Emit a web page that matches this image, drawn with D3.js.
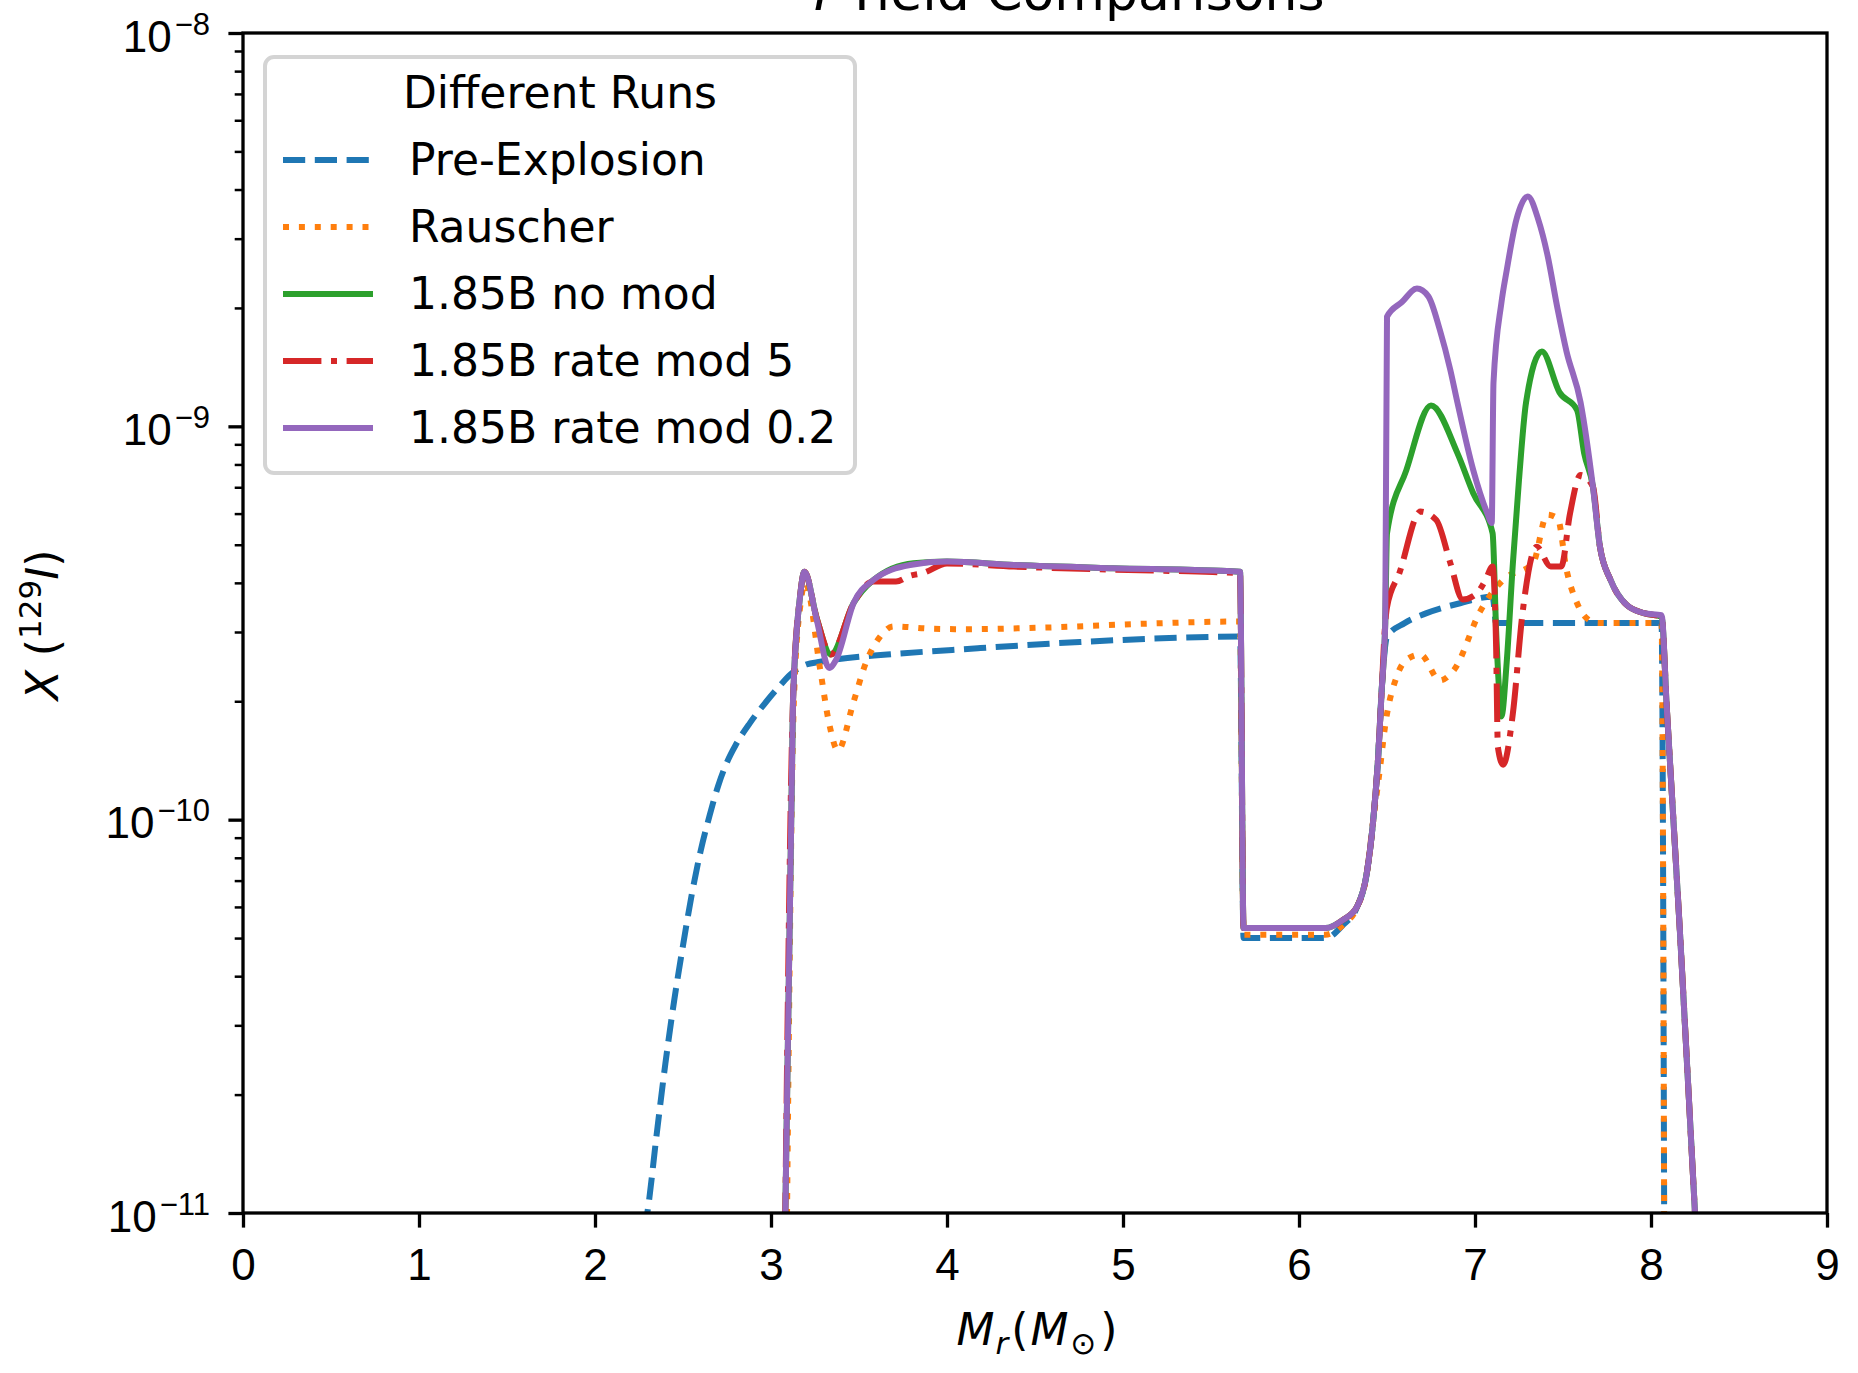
<!DOCTYPE html>
<html>
<head>
<meta charset="utf-8">
<script src="https://cdn.jsdelivr.net/npm/d3@7"></script>
<style>
  html, body { margin: 0; padding: 0; background: #ffffff; }
  svg { display: block; font-family: "DejaVu Sans", sans-serif; }
</style>
</head>
<body>
<svg id="chart" width="1858" height="1373"></svg>
<script>
// ---- data: [enclosed mass M_r (Msun), mass fraction X(129I)] ----
const seriesNames = ["Pre-Explosion", "Rauscher", "1.85B no mod", "1.85B rate mod 5", "1.85B rate mod 0.2"];

const preExplosion = [
  [2.28, 9.0e-12], [2.30, 1.02e-11], [2.35, 1.58e-11], [2.40, 2.40e-11], [2.45, 3.47e-11],
  [2.50, 4.79e-11], [2.55, 6.46e-11], [2.60, 8.32e-11], [2.65, 1.02e-10], [2.70, 1.22e-10],
  [2.75, 1.40e-10], [2.80, 1.55e-10], [2.88, 1.76e-10], [2.975, 2.0e-10], [3.05, 2.19e-10],
  [3.11, 2.34e-10], [3.20, 2.48e-10], [3.28, 2.52e-10], [3.66, 2.63e-10], [4.03, 2.70e-10],
  [4.19, 2.73e-10], [4.755, 2.83e-10], [5.32, 2.90e-10], [5.665, 2.92e-10], [5.685, 5.0e-11],
  [6.15, 5.0e-11], [6.25, 5.4e-11], [6.33, 6.0e-11], [6.385, 7.3e-11], [6.42, 9.8e-11],
  [6.45, 1.45e-10], [6.47, 2.14e-10], [6.50, 2.92e-10], [6.60, 3.16e-10], [6.725, 3.35e-10],
  [6.915, 3.55e-10], [7.10, 3.69e-10], [7.12, 3.16e-10], [8.06, 3.16e-10], [8.075, 9.0e-12]
];

const rauscher = [
  [3.09, 9.0e-12], [3.13, 2.0e-10], [3.17, 3.6e-10], [3.195, 4.0e-10], [3.28, 2.40e-10],
  [3.33, 1.76e-10], [3.38, 1.50e-10], [3.47, 2.0e-10], [3.54, 2.51e-10], [3.62, 2.92e-10],
  [3.695, 3.10e-10], [3.90, 3.06e-10], [4.09, 3.05e-10], [4.57, 3.08e-10], [5.135, 3.15e-10],
  [5.665, 3.19e-10], [5.685, 5.1e-11], [6.15, 5.1e-11], [6.25, 5.4e-11], [6.33, 6.0e-11],
  [6.385, 7.3e-11], [6.42, 9.8e-11], [6.46, 1.35e-10], [6.49, 1.74e-10], [6.555, 2.31e-10],
  [6.61, 2.55e-10], [6.69, 2.63e-10], [6.80, 2.26e-10], [6.88, 2.40e-10], [7.03, 3.39e-10],
  [7.16, 4.07e-10], [7.33, 4.49e-10], [7.41, 5.96e-10], [7.47, 5.83e-10], [7.52, 4.32e-10],
  [7.58, 3.55e-10], [7.635, 3.25e-10], [7.70, 3.16e-10], [8.06, 3.16e-10], [8.075, 9.0e-12]
];

const noMod = [
  [3.08, 9.0e-12], [3.125, 2.0e-10], [3.165, 3.69e-10], [3.19, 4.27e-10], [3.26, 3.25e-10],
  [3.34, 2.63e-10], [3.47, 3.56e-10], [3.58, 4.06e-10], [3.81, 4.49e-10], [4.0, 4.53e-10],
  [4.38, 4.44e-10], [4.945, 4.36e-10], [5.51, 4.30e-10], [5.665, 4.27e-10], [5.685, 5.3e-11],
  [6.15, 5.3e-11], [6.25, 5.56e-11], [6.33, 6.01e-11], [6.385, 7.31e-11], [6.42, 9.79e-11],
  [6.45, 1.45e-10], [6.47, 2.14e-10], [6.49, 3.16e-10], [6.50, 5.35e-10], [6.61, 7.74e-10],
  [6.75, 1.13e-9], [6.90, 8.55e-10], [6.99, 6.76e-10], [7.10, 5.35e-10], [7.12, 3.03e-10],
  [7.14, 2.04e-10], [7.15, 1.83e-10], [7.18, 2.51e-10], [7.215, 4.47e-10], [7.25, 7.31e-10],
  [7.29, 1.15e-9], [7.38, 1.55e-9], [7.48, 1.22e-9], [7.58, 1.10e-9], [7.62, 8.55e-10],
  [7.67, 7.03e-10], [7.71, 4.94e-10], [7.77, 4.07e-10], [7.86, 3.52e-10], [7.96, 3.35e-10],
  [8.06, 3.28e-10], [8.089, 1.95e-10], [8.165, 5.13e-11], [8.25, 1.0e-11], [8.27, 6.9e-12]
];

const rateMod5 = [
  [3.08, 9.0e-12], [3.125, 2.0e-10], [3.165, 3.69e-10], [3.19, 4.27e-10], [3.26, 3.25e-10],
  [3.34, 2.63e-10], [3.47, 3.56e-10], [3.58, 4.03e-10], [3.71, 4.03e-10], [3.79, 4.17e-10],
  [3.865, 4.24e-10], [4.0, 4.48e-10], [4.38, 4.40e-10], [4.945, 4.32e-10], [5.51, 4.26e-10],
  [5.665, 4.23e-10], [5.685, 5.3e-11], [6.15, 5.3e-11], [6.25, 5.56e-11], [6.33, 6.01e-11],
  [6.385, 7.31e-11], [6.42, 9.79e-11], [6.45, 1.45e-10], [6.47, 2.14e-10], [6.49, 3.16e-10],
  [6.50, 3.47e-10], [6.57, 4.23e-10], [6.69, 6.07e-10], [6.78, 5.78e-10], [6.86, 4.49e-10],
  [6.93, 3.63e-10], [7.01, 3.76e-10], [7.06, 4.07e-10], [7.10, 4.40e-10], [7.12, 2.75e-10],
  [7.13, 1.53e-10], [7.16, 1.38e-10], [7.215, 1.86e-10], [7.27, 3.35e-10], [7.35, 4.94e-10],
  [7.43, 4.40e-10], [7.49, 4.40e-10], [7.54, 6.01e-10], [7.60, 7.52e-10], [7.67, 7.03e-10],
  [7.71, 4.94e-10], [7.77, 4.07e-10], [7.86, 3.52e-10], [7.96, 3.35e-10], [8.06, 3.28e-10],
  [8.089, 1.95e-10], [8.165, 5.13e-11], [8.25, 1.0e-11], [8.27, 6.9e-12]
];

const rateMod02 = [
  [3.08, 9.0e-12], [3.125, 2.0e-10], [3.165, 3.69e-10], [3.19, 4.27e-10], [3.26, 3.22e-10],
  [3.33, 2.43e-10], [3.37, 2.55e-10], [3.47, 3.56e-10], [3.58, 4.06e-10], [3.79, 4.44e-10],
  [4.0, 4.53e-10], [4.38, 4.44e-10], [4.945, 4.36e-10], [5.51, 4.30e-10], [5.665, 4.27e-10],
  [5.685, 5.3e-11], [6.15, 5.3e-11], [6.25, 5.56e-11], [6.33, 6.01e-11], [6.385, 7.31e-11],
  [6.42, 9.79e-11], [6.45, 1.45e-10], [6.47, 2.14e-10], [6.49, 3.16e-10], [6.50, 1.90e-9],
  [6.585, 2.07e-9], [6.67, 2.24e-9], [6.735, 2.14e-9], [6.80, 1.76e-9], [6.86, 1.39e-9],
  [6.90, 1.15e-9], [6.99, 7.74e-10], [7.07, 6.01e-10], [7.095, 5.68e-10], [7.105, 1.29e-9],
  [7.15, 2.06e-9], [7.18, 2.49e-9], [7.235, 3.35e-9], [7.30, 3.84e-9], [7.36, 3.35e-9],
  [7.41, 2.75e-9], [7.47, 1.98e-9], [7.52, 1.55e-9], [7.60, 1.15e-9], [7.67, 7.03e-10],
  [7.71, 4.94e-10], [7.77, 4.07e-10], [7.86, 3.52e-10], [7.96, 3.35e-10], [8.06, 3.31e-10],
  [8.089, 1.95e-10], [8.165, 5.13e-11], [8.25, 1.0e-11], [8.27, 6.9e-12]
];

const xTicks = [0, 1, 2, 3, 4, 5, 6, 7, 8, 9];
const yMajorExponents = [-8, -9, -10, -11];

// ---- layout ----
const plot = { left: 243, right: 1827, top: 33, bottom: 1213 };
const FONT = 44;
const SUP = 31;
const TITLE_FONT = 52;
const LW = 6;

const colors = ["#1f77b4", "#ff7f0e", "#2ca02c", "#d62728", "#9467bd"];
const dashes = [
  `${3.7 * LW},${1.6 * LW}`,
  `${1 * LW},${1.65 * LW}`,
  null,
  `${6.4 * LW},${1.6 * LW},${1 * LW},${1.6 * LW}`,
  null
];
const allSeries = [preExplosion, rauscher, noMod, rateMod5, rateMod02];

const svg = d3.select("#chart");

const x = d3.scaleLinear().domain([0, 9]).range([plot.left, plot.right]);
const y = d3.scaleLog().domain([1e-11, 1e-8]).range([plot.bottom, plot.top]);

svg.append("defs").append("clipPath").attr("id", "plotClip")
  .append("rect")
  .attr("x", plot.left).attr("y", plot.top)
  .attr("width", plot.right - plot.left).attr("height", plot.bottom - plot.top);

// ---- curves ----
const line = d3.line()
  .x(d => x(d[0]))
  .y(d => y(d[1]))
  .curve(d3.curveMonotoneX);

const curves = svg.append("g").attr("clip-path", "url(#plotClip)");
allSeries.forEach((s, i) => {
  curves.append("path")
    .datum(s)
    .attr("d", line)
    .attr("fill", "none")
    .attr("stroke", colors[i])
    .attr("stroke-width", LW)
    .attr("stroke-linejoin", "round")
    .attr("stroke-linecap", dashes[i] ? "butt" : "square")
    .attr("stroke-dasharray", dashes[i]);
});

// ---- axes ----
const xAxis = d3.axisBottom(x).tickValues(xTicks).tickFormat(d3.format("d"))
  .tickSize(14.6).tickPadding(10);
const gx = svg.append("g").attr("transform", `translate(0,${plot.bottom})`).call(xAxis);
gx.select(".domain").remove();
gx.selectAll(".tick line").attr("stroke", "#000").attr("stroke-width", 3.3);
gx.selectAll(".tick text")
  .attr("font-size", FONT).attr("fill", "#000")
  .attr("dy", null).attr("y", 67);

const yMajor = yMajorExponents.map(e => Math.pow(10, e));
const yMinor = [];
[-11, -10, -9].forEach(e => { for (let k = 2; k <= 9; k++) yMinor.push(k * Math.pow(10, e)); });

const gyMinor = svg.append("g").attr("transform", `translate(${plot.left},0)`)
  .call(d3.axisLeft(y).tickValues(yMinor).tickFormat("").tickSize(8.3));
gyMinor.select(".domain").remove();
gyMinor.selectAll(".tick line").attr("stroke", "#000").attr("stroke-width", 2.5);

const gy = svg.append("g").attr("transform", `translate(${plot.left},0)`)
  .call(d3.axisLeft(y).tickValues(yMajor).tickFormat("").tickSize(14.6));
gy.select(".domain").remove();
gy.selectAll(".tick line").attr("stroke", "#000").attr("stroke-width", 3.3);
gy.selectAll(".tick").each(function(d) {
  const exp = Math.round(Math.log10(d));
  const t = d3.select(this).select("text")
    .attr("x", -33).attr("y", 18).attr("dy", null)
    .attr("text-anchor", "end").attr("fill", "#000").attr("font-size", FONT);
  t.text(null);
  t.append("tspan").text("10");
  t.append("tspan").attr("font-size", SUP).attr("dx", 3).attr("dy", -17)
    .text("\u2212" + Math.abs(exp));
});

// frame
svg.append("rect")
  .attr("x", plot.left).attr("y", plot.top)
  .attr("width", plot.right - plot.left).attr("height", plot.bottom - plot.top)
  .attr("fill", "none").attr("stroke", "#000").attr("stroke-width", 3.3);

// ---- title and axis labels ----
const title = svg.append("text")
  .attr("x", (plot.left + plot.right) / 2).attr("y", 10)
  .attr("text-anchor", "middle").attr("font-size", TITLE_FONT).attr("fill", "#000");
title.append("tspan").attr("font-size", 36).attr("dy", -20).text("129");
title.append("tspan").attr("font-style", "italic").attr("dy", 20).text("I");
title.append("tspan").text(" Yield Comparisons");

const xl = svg.append("text")
  .attr("x", (plot.left + plot.right) / 2 + 2).attr("y", 1345)
  .attr("text-anchor", "middle").attr("font-size", FONT).attr("fill", "#000");
xl.append("tspan").attr("font-style", "italic").text("M");
xl.append("tspan").attr("font-style", "italic").attr("font-size", SUP).attr("dx", 1).attr("dy", 9).text("r");
xl.append("tspan").attr("dx", 3).attr("dy", -9).text("(");
xl.append("tspan").attr("font-style", "italic").attr("dx", 2).text("M");
xl.append("tspan").attr("font-size", SUP).attr("dx", 2).attr("dy", 9).text("\u2299");
xl.append("tspan").attr("dx", 4).attr("dy", -9).text(")");

const yl = svg.append("text")
  .attr("transform", `translate(58,${(plot.top + plot.bottom) / 2 + 2}) rotate(-90)`)
  .attr("text-anchor", "middle").attr("font-size", FONT).attr("fill", "#000");
yl.append("tspan").attr("font-style", "italic").text("X");
yl.append("tspan").text(" (");
yl.append("tspan").attr("font-size", SUP).attr("dy", -17).text("129");
yl.append("tspan").attr("font-style", "italic").attr("dy", 17).text("I");
yl.append("tspan").text(")");

// ---- legend ----
const lg = svg.append("g");
lg.append("rect")
  .attr("x", 265).attr("y", 57).attr("width", 590).attr("height", 416)
  .attr("rx", 9).attr("ry", 9)
  .attr("fill", "#ffffff").attr("fill-opacity", 0.8)
  .attr("stroke", "#d4d4d4").attr("stroke-width", 4);
lg.append("text")
  .attr("x", 560).attr("y", 108).attr("text-anchor", "middle")
  .attr("font-size", FONT).attr("fill", "#000").text("Different Runs");
seriesNames.forEach((name, i) => {
  const yy = 160 + i * 67;
  lg.append("line")
    .attr("x1", 283).attr("x2", 373).attr("y1", yy).attr("y2", yy)
    .attr("stroke", colors[i]).attr("stroke-width", LW)
    .attr("stroke-linecap", "butt")
    .attr("stroke-dasharray", dashes[i]);
  lg.append("text")
    .attr("x", 409).attr("y", yy + 15)
    .attr("font-size", FONT).attr("fill", "#000").text(name);
});
</script>
</body>
</html>
